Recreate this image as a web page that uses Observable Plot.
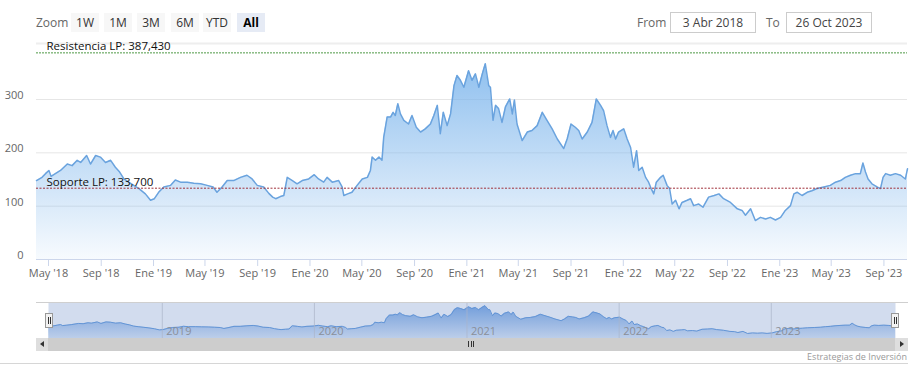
<!DOCTYPE html>
<html><head><meta charset="utf-8">
<script src="https://cdn.jsdelivr.net/npm/d3@7"></script>
<script src="https://cdn.jsdelivr.net/npm/@observablehq/plot@0.6"></script>
<style>
body{margin:0;background:#fff;font-family:"Open Sans",sans-serif;}
#wrap{position:relative;width:919px;height:377px;overflow:hidden;background:#fff;}
#wrap svg{position:absolute;left:0;}
#wrap div{position:absolute;}
.btn{top:13px;width:28px;height:19px;background:#f7f7f7;font-size:12px;line-height:19px;text-align:center;color:#333;}
.lbl{top:13px;font-size:12px;line-height:19px;color:#666;}
.box{top:12px;height:19px;border:1px solid #ccc;font-size:12px;line-height:19px;text-align:center;color:#444;background:#fff;}
.handle{top:313px;width:6px;height:13px;background:#f2f2f2;border:1px solid #999;}
.handle i{position:absolute;top:3px;width:1px;height:7px;background:#333;}
</style></head>
<body>
<div id="wrap"></div>
<script>
// ---- data ----
const dates = [
"2018-04-03","2018-04-16","2018-04-24","2018-05-02","2018-05-07","2018-05-17","2018-05-29","2018-06-14","2018-06-25","2018-07-07",
"2018-07-15","2018-07-29","2018-08-07","2018-08-19","2018-08-30","2018-09-11","2018-09-23","2018-10-04","2018-10-14","2018-10-24",
"2018-11-04","2018-11-16","2018-11-28","2018-12-13","2018-12-25","2019-01-03","2019-01-13","2019-01-25","2019-02-10","2019-02-21",
"2019-03-05","2019-03-21","2019-04-05","2019-04-21","2019-05-06","2019-05-20","2019-05-29","2019-06-10","2019-06-22","2019-07-07",
"2019-07-23","2019-08-07","2019-08-19","2019-08-31","2019-09-15","2019-09-27","2019-10-06","2019-10-13","2019-10-24","2019-11-01",
"2019-11-09","2019-11-21","2019-12-02","2019-12-14","2019-12-29","2020-01-11","2020-01-21","2020-02-02","2020-02-10","2020-02-22",
"2020-03-08","2020-03-16","2020-03-20","2020-03-29","2020-04-08","2020-04-20","2020-05-02","2020-05-14","2020-05-21","2020-05-25",
"2020-06-02","2020-06-10","2020-06-17","2020-06-21","2020-06-29","2020-07-07","2020-07-13","2020-07-18","2020-07-24","2020-07-30",
"2020-08-07","2020-08-18","2020-08-26","2020-09-05","2020-09-15","2020-09-26","2020-10-08","2020-10-16","2020-10-24","2020-10-31",
"2020-11-07","2020-11-16","2020-11-24","2020-12-02","2020-12-09","2020-12-17","2020-12-25","2021-01-05","2021-01-13","2021-01-21",
"2021-01-29","2021-02-06","2021-02-13","2021-02-21","2021-02-25","2021-03-03","2021-03-09","2021-03-16","2021-03-24","2021-04-01",
"2021-04-11","2021-04-17","2021-04-22","2021-04-28","2021-05-10","2021-05-22","2021-06-02","2021-06-14","2021-06-26","2021-07-07",
"2021-07-19","2021-07-31","2021-08-15","2021-08-23","2021-09-01","2021-09-11","2021-09-19","2021-09-27","2021-10-09","2021-10-20",
"2021-10-30","2021-11-09","2021-11-16","2021-11-24","2021-12-02","2021-12-08","2021-12-14","2021-12-21","2022-01-02","2022-01-10",
"2022-01-18","2022-01-25","2022-02-01","2022-02-06","2022-02-14","2022-02-22","2022-03-01","2022-03-07","2022-03-13","2022-03-19",
"2022-03-29","2022-04-04","2022-04-13","2022-04-19","2022-04-25","2022-05-03","2022-05-11","2022-05-18","2022-05-30","2022-06-07",
"2022-06-14","2022-06-26","2022-07-06","2022-07-19","2022-08-01","2022-08-12","2022-08-23","2022-09-08","2022-09-24","2022-10-05",
"2022-10-13","2022-10-25","2022-11-05","2022-11-17","2022-11-29","2022-12-10","2022-12-22","2023-01-03","2023-01-14","2023-01-26",
"2023-02-03","2023-02-11","2023-02-22","2023-03-06","2023-03-17","2023-03-29","2023-04-14","2023-04-29","2023-05-11","2023-05-23",
"2023-06-03","2023-06-15","2023-06-27","2023-07-08","2023-07-14","2023-07-20","2023-07-26","2023-08-04","2023-08-16","2023-08-24",
"2023-08-30","2023-09-05","2023-09-16","2023-09-28","2023-10-10","2023-10-21","2023-10-26"];
const values = [
148,154,161,167,156,161,167,179,176,186,
182,195,179,195,192,182,186,173,164,151,
145,139,133,123,111,114,126,136,139,149,
145,145,143,142,139,136,126,136,148,148,
154,158,151,139,136,124,117,114,118,120,
154,148,142,148,151,159,151,145,154,145,
148,136,120,123,126,139,151,154,167,192,
186,192,186,229,267,267,276,270,292,273,
261,254,270,248,239,245,254,270,289,236,
276,251,273,326,345,336,323,354,336,348,
323,348,367,326,323,261,289,283,257,286,
301,273,299,254,223,239,242,251,276,261,
245,226,208,226,254,248,242,226,239,257,
301,289,279,251,229,242,226,239,245,226,
210,173,204,167,173,154,145,133,123,145,
154,158,139,133,104,111,95,107,111,114,
101,104,98,117,120,123,114,107,95,92,
83,95,73,79,76,79,74,79,92,101,
123,126,120,126,129,133,136,139,145,148,
154,158,161,161,181,164,151,142,136,133,
154,161,158,161,158,151,170];
const startDate = "2018-04-03";
const endDate = "2023-10-26";
const xTickDates = ["2018-05-01","2018-09-01","2019-01-01","2019-05-01","2019-09-01","2020-01-01","2020-05-01","2020-09-01","2021-01-01","2021-05-01","2021-09-01","2022-01-01","2022-05-01","2022-09-01","2023-01-01","2023-05-01","2023-09-01"];
const xTickLabels = ["May '18","Sep '18","Ene '19","May '19","Sep '19","Ene '20","May '20","Sep '20","Ene '21","May '21","Sep '21","Ene '22","May '22","Sep '22","Ene '23","May '23","Sep '23"];
const yTicks = [0, 100, 200, 300];
const yGrid = [100, 200, 300];
const yMax = 405;
const resistance = 387.43;
const resistanceLabel = "Resistencia LP: 387,430";
const support = 133.7;
const supportLabel = "Soporte LP: 133,700";
const navYearDates = ["2019-01-01","2020-01-01","2021-01-01","2022-01-01","2023-01-01"];
const navYearLabels = ["2019","2020","2021","2022","2023"];
const navDomain = [20, 400];
const zoomButtons = ["1W","1M","3M","6M","YTD","All"];
const fromText = "3 Abr 2018";
const toText = "26 Oct 2023";
const creditText = "Estrategias de Inversión";

// ---- build ----
const series = dates.map((d, i) => ({date: new Date(d), v: values[i]}));
const xDom = [new Date(startDate), new Date(endDate)];
const tickMap = new Map(xTickDates.map((d, i) => [+new Date(d), xTickLabels[i]]));
const font = {fontFamily: "'Open Sans', sans-serif", fontSize: "11px", background: "transparent", overflow: "visible"};

const main = Plot.plot({
  width: 919, height: 285,
  marginLeft: 36, marginRight: 12, marginTop: 43, marginBottom: 26,
  x: {type: "utc", domain: xDom},
  y: {domain: [0, yMax]},
  style: font,
  marks: [
    Plot.ruleY(yGrid, {stroke: "#e6e6e6"}),
    Plot.ruleY([yMax], {stroke: "#eeeeee", strokeWidth: 2}),
    Plot.areaY(series, {x: "date", y: "v", fill: "url(#mainGrad)"}),
    Plot.lineY(series, {x: "date", y: "v", stroke: "#6aa3de", strokeWidth: 1.5}),
    Plot.ruleY([0], {stroke: "#ccd6eb"}),
    Plot.ruleY([support], {stroke: "#a0303a", strokeDasharray: "2,1.5", strokeWidth: 1}),
    Plot.ruleY([resistance], {stroke: "#4f9a45", strokeDasharray: "2,1", strokeWidth: 1}),
    Plot.text([{y: resistance, t: resistanceLabel}], {y: "y", text: "t", frameAnchor: "left", textAnchor: "start", dx: 10, dy: -7, fill: "#111", fontSize: 11.5}),
    Plot.text([{y: support, t: supportLabel}], {y: "y", text: "t", frameAnchor: "left", textAnchor: "start", dx: 10, dy: -6, fill: "#111", fontSize: 11.5}),
    Plot.axisX({ticks: xTickDates.map(d => new Date(d)), tickFormat: d => tickMap.get(+d), tickSize: 7, tickPadding: 3, stroke: "#ccd6eb", fill: "#666", label: null}),
    Plot.axisY({ticks: yTicks, tickSize: 0, tickPadding: 13, fill: "#666", dy: -4, label: null})
  ]
});
d3.select(main).style("top", "0px");
const defs1 = d3.select(main).insert("defs", ":first-child");
const g1 = defs1.append("linearGradient").attr("id", "mainGrad").attr("x1", 0).attr("y1", 0).attr("x2", 0).attr("y2", 1);
g1.append("stop").attr("offset", "0").attr("stop-color", "#7cb5ec").attr("stop-opacity", 0.85);
g1.append("stop").attr("offset", "1").attr("stop-color", "#7cb5ec").attr("stop-opacity", 0.06);

const nav = Plot.plot({
  width: 919, height: 36,
  marginLeft: 48, marginRight: 24, marginTop: 0, marginBottom: 0,
  x: {type: "utc", domain: xDom, axis: null},
  y: {domain: navDomain, axis: null},
  style: font,
  marks: [
    Plot.frame({fill: "#d2dcee", stroke: null}),
    Plot.areaY(series, {x: "date", y: "v", fill: "url(#navGrad)", clip: true}),
    Plot.lineY(series, {x: "date", y: "v", stroke: "#6395d6", strokeWidth: 1}),
    Plot.ruleX(navYearDates.map(d => new Date(d)), {stroke: "#aab4c8", strokeWidth: 0.7}),
    Plot.text(navYearDates.map((d, i) => ({d: new Date(d), t: navYearLabels[i]})), {x: "d", text: "t", frameAnchor: "bottom", lineAnchor: "middle", textAnchor: "start", dx: 4, dy: -7, fill: "#8a8f99", fontSize: 11})
  ]
});
d3.select(nav).style("top", "302px");
const defs2 = d3.select(nav).insert("defs", ":first-child");
const g2 = defs2.append("linearGradient").attr("id", "navGrad").attr("x1", 0).attr("y1", 0).attr("x2", 0).attr("y2", 1);
g2.append("stop").attr("offset", "0").attr("stop-color", "#5a8ed6").attr("stop-opacity", 0.8);
g2.append("stop").attr("offset", "1").attr("stop-color", "#5a8ed6").attr("stop-opacity", 0.15);

const wrap = document.getElementById("wrap");
wrap.appendChild(main);
wrap.appendChild(nav);

function div(cls, css, html) { const e = document.createElement("div"); if (cls) e.className = cls; e.style.cssText = css; if (html != null) e.innerHTML = html; wrap.appendChild(e); return e; }

// toolbar
div("lbl", "left:36px;", "Zoom");
const btnLeft = [71, 104, 137, 171, 203, 237];
zoomButtons.forEach((b, i) => {
  const e = div("btn", `left:${btnLeft[i]}px;`, b);
  if (b === "All") { e.style.background = "#e6ebf5"; e.style.fontWeight = "bold"; e.style.color = "#000"; }
});
div("lbl", "left:637px;", "From");
div("box", "left:670px;width:84px;", fromText);
div("lbl", "left:766px;", "To");
div("box", "left:786px;width:84px;", toText);

// navigator chrome
div("", "left:36px;top:302px;width:872px;height:1px;background:#cfcfcf;");
div("", "left:36px;top:338px;width:872px;height:13px;background:#cdcdcd;");
div("", "left:36px;top:338px;width:12px;height:13px;background:#dedede;");
div("", "left:895px;top:338px;width:13px;height:13px;background:#dedede;");
div("", "left:40px;top:341px;width:0;height:0;border-top:3.5px solid transparent;border-bottom:3.5px solid transparent;border-right:4px solid #333;");
div("", "left:900px;top:341px;width:0;height:0;border-top:3.5px solid transparent;border-bottom:3.5px solid transparent;border-left:4px solid #333;");
[468, 470.5, 473].forEach(x => div("", `left:${x}px;top:341px;width:1px;height:6px;background:#333;`));
div("handle", "left:45px;", "<i style='left:1.5px'></i><i style='left:3.5px'></i>");
div("handle", "left:891px;", "<i style='left:1.5px'></i><i style='left:3.5px'></i>");
div("", "left:0;top:351px;width:907px;text-align:right;font-size:9px;color:#999;line-height:12px;", creditText);
div("", "left:0;top:363px;width:908px;height:1px;background:#d6d6d6;");
</script>
</body></html>
